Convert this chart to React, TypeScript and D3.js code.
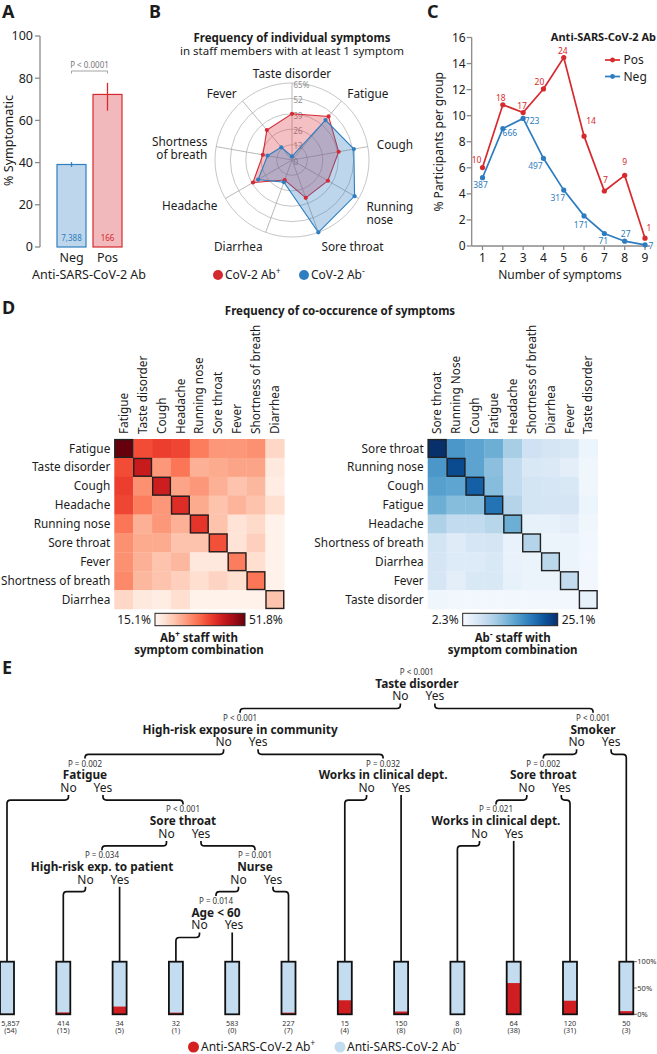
import React from "react";
import * as d3 from "d3";

const FONT = "'Noto Sans', 'Open Sans', sans-serif";
const INK = "#1c1c1c";
const RED = "#d42a2f";
const BLUE = "#2f7fc0";
const RED_FILL = "#f2b9bd";
const BLUE_FILL = "#bdd6eb";
const AXIS = "#8a8a8a";

// ---------- Panel A : % symptomatic
const abGroups = ["Neg", "Pos"];
const symptomatic = [39.1, 72.3];
const ciLow = [38.0, 64.6];
const ciHigh = [40.2, 77.8];
const groupCounts = ["7,388", "166"];
const pctTicks = [0, 20, 40, 60, 80, 100];

// ---------- Panel B : radar
const radarAxes = ["Taste disorder", "Fatigue", "Cough", "Running nose", "Sore throat", "Diarrhea", "Headache", "Shortness of breath", "Fever"];
const radarAxisLines = [["Taste disorder"], ["Fatigue"], ["Cough"], ["Running", "nose"], ["Sore throat"], ["Diarrhea"], ["Headache"], ["Shortness", "of breath"], ["Fever"]];
const radarPos = [39, 48, 40, 35, 34, 18, 38, 25, 33];
const radarNeg = [3, 44, 53, 61, 65, 20, 33, 21, 14];
const radarRings = [13, 26, 39, 52, 65];

// ---------- Panel C : number of symptoms
const symptomN = [1, 2, 3, 4, 5, 6, 7, 8, 9];
const pctPos = [6.02, 10.84, 10.24, 12.05, 14.46, 8.43, 4.22, 5.42, 0.6];
const pctNeg = [5.24, 9.01, 9.79, 6.73, 4.29, 2.31, 0.96, 0.37, 0.09];
const countPos = [10, 18, 17, 20, 24, 14, 7, 9, 1];
const countNeg = [387, 666, 723, 497, 317, 171, 71, 27, 7];
const partTicks = [0, 2, 4, 6, 8, 10, 12, 14, 16];
// label nudges (px)
const posLabelOff = [[-6, -8], [-2, -7], [-1, -7], [-4, -7], [-1, -7], [7, -15], [1, -11], [0, -13], [4, -10]];
const negLabelOff = [[-2, 7], [7, 4], [9, 3], [-8, 8], [-6, 8], [-3, 9], [-1, 8], [1, -7], [6, 1]];

// ---------- Panel D : co-occurrence heatmaps
const posSymptoms = ["Fatigue", "Taste disorder", "Cough", "Headache", "Running nose", "Sore throat", "Fever", "Shortness of breath", "Diarrhea"];
const posMatrix = [
  [51.8, 36.4, 37.9, 37.1, 31.3, 28.3, 28.3, 29.0, 20.6],
  [36.4, 43.0, 28.3, 32.0, 25.4, 26.1, 26.8, 26.8, 17.7],
  [37.9, 29.0, 42.3, 26.8, 28.3, 25.4, 23.2, 24.6, 16.9],
  [37.1, 31.3, 28.3, 40.1, 26.1, 23.2, 25.0, 23.2, 19.5],
  [32.0, 25.4, 28.3, 25.4, 39.0, 23.2, 18.8, 20.2, 15.8],
  [29.0, 26.1, 26.1, 23.2, 23.2, 36.0, 18.8, 21.7, 15.8],
  [29.0, 25.4, 23.2, 24.6, 18.0, 18.0, 31.3, 19.5, 15.8],
  [29.8, 24.6, 23.2, 21.7, 19.5, 21.0, 19.5, 32.0, 15.8],
  [20.6, 17.7, 16.9, 19.5, 15.8, 15.8, 15.8, 15.8, 23.2],
];
const posRange = [15.1, 51.8];
const negColSymptoms = ["Sore throat", "Running Nose", "Cough", "Fatigue", "Headache", "Shortness of breath", "Diarrhea", "Fever", "Taste disorder"];
const negRowSymptoms = ["Sore throat", "Running nose", "Cough", "Fatigue", "Headache", "Shortness of breath", "Diarrhea", "Fever", "Taste disorder"];
const negMatrix = [
  [25.1, 16.0, 14.8, 13.7, 10.1, 6.9, 6.2, 5.7, 3.4],
  [16.0, 22.8, 14.8, 11.9, 8.0, 5.7, 5.5, 4.6, 3.2],
  [15.1, 14.6, 21.0, 12.1, 8.0, 6.4, 6.0, 5.7, 3.2],
  [13.7, 12.1, 12.1, 19.2, 9.1, 6.4, 6.2, 6.2, 3.4],
  [9.6, 8.0, 8.0, 8.9, 13.7, 4.1, 4.1, 4.6, 3.2],
  [6.4, 5.0, 6.0, 6.2, 3.9, 9.1, 3.7, 3.7, 3.0],
  [6.2, 5.3, 5.3, 5.7, 3.9, 3.7, 8.7, 3.7, 3.0],
  [6.0, 4.6, 5.7, 5.7, 4.1, 3.7, 3.7, 8.0, 3.0],
  [3.2, 3.0, 3.0, 3.0, 3.0, 3.0, 3.0, 3.0, 4.1],
];
const negRange = [2.3, 25.1];

// ---------- Panel E : conditional inference tree
const splitNames = ["Taste disorder", "High-risk exposure in community", "Fatigue", "Sore throat", "High-risk exp. to patient", "Nurse", "Age < 60", "Works in clinical dept.", "Smoker", "Sore throat", "Works in clinical dept."];
const splitP = ["P < 0.001", "P < 0.001", "P = 0.002", "P < 0.001", "P = 0.034", "P = 0.001", "P = 0.014", "P = 0.032", "P < 0.001", "P = 0.002", "P = 0.021"];
const splitNo = ["n1", "n2", "L0", "n4", "L1", "n6", "L3", "L6", "n9", "n10", "L8"];
const splitYes = ["n8", "n7", "n3", "n5", "L2", "L5", "L4", "L7", "L11", "L10", "L9"];
const leafTotal = [5857, 414, 34, 32, 583, 227, 15, 150, 8, 64, 120, 50];
const leafPos = [54, 15, 5, 1, 0, 7, 4, 8, 0, 38, 31, 3];
// horizontal placement of each split, in leaf-slot units
const splitSlot = [7.28, 4.14, 1.385, 3.126, 1.687, 4.405, 3.712, 6.68, 10.41, 9.526, 8.686];

const Sup = ({ t, size = 8 }: { t: string; size?: number }) => (
  <tspan dy={-5} fontSize={size}>{t}</tspan>
);

function PanelA() {
  const y = d3.scaleLinear().domain([0, 100]).range([247, 36]);
  const x = d3.scaleBand().domain(abGroups).range([49.8, 129.2]).paddingInner(0.194).paddingOuter(0.2);
  const ax = 40;
  const cNeg = x("Neg")! + x.bandwidth() / 2;
  const cPos = x("Pos")! + x.bandwidth() / 2;
  return (
    <g>
      <text x={2} y={18} fontSize={18} fontWeight="bold">A</text>
      <line x1={ax} x2={ax} y1={y(100)} y2={y(0)} stroke={AXIS} strokeWidth={1.3} />
      {pctTicks.map(t => (
        <g key={t}>
          <line x1={ax - 5} x2={ax} y1={y(t)} y2={y(t)} stroke={AXIS} strokeWidth={1.3} />
          <text x={ax - 7} y={y(t)} dy="0.35em" textAnchor="end" fontSize={12.5}>{t}</text>
        </g>
      ))}
      <text transform={`translate(12.5,${y(50) - 1}) rotate(-90)`} textAnchor="middle" fontSize={12.5}>% Symptomatic</text>
      {abGroups.map((g, i) => {
        const c = i === 0 ? BLUE : RED;
        const cx = x(g)! + x.bandwidth() / 2;
        return (
          <g key={g}>
            <rect x={x(g)} y={y(symptomatic[i])} width={x.bandwidth()} height={y(0) - y(symptomatic[i])}
              fill={i === 0 ? BLUE_FILL : RED_FILL} stroke={c} strokeWidth={1.2} />
            <line x1={cx} x2={cx} y1={y(ciLow[i])} y2={y(ciHigh[i])} stroke={c} strokeWidth={1.3} />
            <text x={cx} y={241} textAnchor="middle" fontSize={8} fill={c}>{groupCounts[i]}</text>
            <text x={cx} y={262} textAnchor="middle" fontSize={12.5}>{g}</text>
          </g>
        );
      })}
      <path d={`M${cNeg},73.5V71H${cPos}V73.5`} fill="none" stroke="#999" strokeWidth={0.9} />
      <text x={(cNeg + cPos) / 2} y={67.5} textAnchor="middle" fontSize={8} fill="#777">P &lt; 0.0001</text>
      <text x={89} y={279} textAnchor="middle" fontSize={12.5}>Anti-SARS-CoV-2 Ab</text>
    </g>
  );
}

function PanelB() {
  const cx = 292;
  const cy = 160;
  const r = d3.scaleLinear().domain([0, 65]).range([0, 77]);
  const ang = d3.scaleLinear().domain([0, radarAxes.length]).range([0, 2 * Math.PI]);
  const pt = (i: number, v: number) => [cx + r(v) * Math.sin(ang(i)), cy - r(v) * Math.cos(ang(i))];
  const poly = (vals: number[]) => vals.map((v, i) => pt(i, v).join(",")).join(" ");
  return (
    <g>
      <text x={149} y={18} fontSize={18} fontWeight="bold">B</text>
      <text x={cx} y={42} textAnchor="middle" fontSize={11.5} fontWeight="bold">Frequency of individual symptoms</text>
      <text x={cx} y={55} textAnchor="middle" fontSize={11.5}>in staff members with at least 1 symptom</text>
      {radarRings.map(v => (
        <circle key={v} cx={cx} cy={cy} r={r(v)} fill="none" stroke="#b8b8b8" strokeWidth={0.8} />
      ))}
      {radarAxes.map((a, i) => {
        const [x2, y2] = pt(i, 65);
        return <line key={a} x1={cx} y1={cy} x2={x2} y2={y2} stroke="#a8a8a8" strokeWidth={0.8} />;
      })}
      {[0, ...radarRings].map((v, k) => (
        <text key={v} x={cx + 1.5} y={cy - r(v) + 2} dy="0.35em" fontSize={8} fill="#8f8f8f">
          {k === radarRings.length ? `${v}%` : v}
        </text>
      ))}
      <polygon points={poly(radarPos)} fill="rgba(220,60,72,0.32)" stroke="#d42a35" strokeWidth={1.1} />
      <polygon points={poly(radarNeg)} fill="rgba(52,128,196,0.32)" stroke="#2f7fc0" strokeWidth={1.1} />
      {radarPos.map((v, i) => {
        const [x, y] = pt(i, v);
        return <circle key={"p" + i} cx={x} cy={y} r={2.1} fill="#d42a35" />;
      })}
      {radarNeg.map((v, i) => {
        const [x, y] = pt(i, v);
        return <circle key={"n" + i} cx={x} cy={y} r={2.1} fill="#2f7fc0" />;
      })}
      {radarAxisLines.map((lines, i) => {
        const s = Math.sin(ang(i));
        const c = Math.cos(ang(i));
        const lx = cx + 86 * s;
        const ly = cy - 86 * c + Math.max(0, -c) * 6.5;
        const anchor = s > 0.3 ? "start" : s < -0.3 ? "end" : "middle";
        const first = lines.length > 1 ? (c > 0 ? -3 : 1) : 0;
        return (
          <text key={i} x={lx} y={ly + first} textAnchor={anchor} fontSize={11.8}>
            {lines.map((l, k) => (
              <tspan key={k} x={lx} dy={k === 0 ? "0.35em" : 12.5}>{l}</tspan>
            ))}
          </text>
        );
      })}
      <circle cx={218} cy={275} r={5} fill={RED} />
      <text x={225} y={279} fontSize={12}>CoV-2 Ab<Sup t="+" /></text>
      <circle cx={304} cy={275} r={5} fill={BLUE} />
      <text x={311} y={279} fontSize={12}>CoV-2 Ab<Sup t="-" size={9} /></text>
    </g>
  );
}

function PanelC() {
  const x = d3.scaleLinear().domain([1, 9]).range([482.5, 645]);
  const y = d3.scaleLinear().domain([0, 16]).range([246, 37.5]);
  const line = d3.line<number>().x((_, i) => x(symptomN[i])).y(d => y(d));
  const ax = 471.7;
  const series = [
    { vals: pctPos, counts: countPos, color: "#d62a2e", off: posLabelOff },
    { vals: pctNeg, counts: countNeg, color: "#2d7cc0", off: negLabelOff },
  ];
  return (
    <g>
      <text x={427} y={18} fontSize={18} fontWeight="bold">C</text>
      <line x1={ax} x2={ax} y1={y(16)} y2={y(0)} stroke={AXIS} strokeWidth={1.3} />
      <line x1={ax} x2={650} y1={y(0)} y2={y(0)} stroke={AXIS} strokeWidth={1.3} />
      {partTicks.map(t => (
        <g key={t}>
          <line x1={ax - 5} x2={ax} y1={y(t)} y2={y(t)} stroke={AXIS} strokeWidth={1.3} />
          <text x={ax - 6} y={y(t)} dy="0.35em" textAnchor="end" fontSize={12}>{t}</text>
        </g>
      ))}
      {symptomN.map(n => (
        <g key={n}>
          <line x1={x(n)} x2={x(n)} y1={y(0)} y2={y(0) + 4} stroke={AXIS} strokeWidth={1.3} />
          <text x={x(n)} y={262} textAnchor="middle" fontSize={12}>{n}</text>
        </g>
      ))}
      <text x={560} y={279} textAnchor="middle" fontSize={12}>Number of symptoms</text>
      <text transform={`translate(443,${y(8)}) rotate(-90)`} textAnchor="middle" fontSize={12}>% Participants per group</text>
      {series.map((s, k) => (
        <g key={k}>
          <path d={line(s.vals) || ""} fill="none" stroke={s.color} strokeWidth={1.7} />
          {s.vals.map((v, i) => (
            <g key={i}>
              <circle cx={x(symptomN[i])} cy={y(v)} r={2.6} fill={s.color} />
              <text x={x(symptomN[i]) + s.off[i][0]} y={y(v) + s.off[i][1]} dy="0.35em" textAnchor="middle"
                fontSize={8.5} fill={s.color}>{s.counts[i]}</text>
            </g>
          ))}
        </g>
      ))}
      <text x={656} y={41} textAnchor="end" fontSize={11} fontWeight="bold">Anti-SARS-CoV-2 Ab</text>
      {[{ t: "Pos", c: "#d62a2e", yy: 60 }, { t: "Neg", c: "#2d7cc0", yy: 76.5 }].map(l => (
        <g key={l.t}>
          <line x1={605} x2={620} y1={l.yy} y2={l.yy} stroke={l.c} strokeWidth={1.7} />
          <circle cx={612.5} cy={l.yy} r={2.4} fill={l.c} />
          <text x={623.5} y={l.yy} dy="0.35em" fontSize={12}>{l.t}</text>
        </g>
      ))}
    </g>
  );
}

function Heatmap(props: {
  id: string; x0: number; cols: string[]; rows: string[]; matrix: number[][];
  range: number[]; interp: (t: number) => string; barX: [number, number];
  sign: string; center: number;
}) {
  const { id, x0, cols, rows, matrix, range, interp, barX, sign, center } = props;
  const y0 = 439;
  const size = 170;
  const bx = d3.scaleBand<number>().domain(d3.range(cols.length)).range([x0, x0 + size]);
  const by = d3.scaleBand<number>().domain(d3.range(rows.length)).range([y0, y0 + size]);
  const color = d3.scaleSequential(interp).domain(range).clamp(true);
  const stops = d3.range(0, 1.001, 0.1);
  return (
    <g>
      <defs>
        <linearGradient id={id}>
          {stops.map(s => <stop key={s} offset={s} stopColor={interp(s)} />)}
        </linearGradient>
      </defs>
      {matrix.map((row, i) => row.map((v, j) => (
        <rect key={i + "-" + j} x={bx(j)} y={by(i)} width={bx.bandwidth() + 0.3} height={by.bandwidth() + 0.3} fill={color(v)} />
      )))}
      {matrix.map((_, i) => (
        <rect key={"d" + i} x={bx(i)! + 0.6} y={by(i)! + 0.6} width={bx.bandwidth() - 1.2} height={by.bandwidth() - 1.2}
          fill="none" stroke="#222" strokeWidth={1.4} />
      ))}
      {cols.map((c, j) => (
        <text key={c} transform={`translate(${bx(j)! + bx.bandwidth() / 2},${y0 - 5}) rotate(-90)`} dy="0.35em" fontSize={11.8}>{c}</text>
      ))}
      {rows.map((r, i) => (
        <text key={r} x={x0 - 4} y={by(i)! + by.bandwidth() / 2} dy="0.35em" textAnchor="end" fontSize={11.8}>{r}</text>
      ))}
      <rect x={barX[0]} y={613.3} width={barX[1] - barX[0]} height={12.4} fill={`url(#${id})`} stroke="#222" strokeWidth={1} />
      <text x={barX[0] - 4} y={619.5} dy="0.35em" textAnchor="end" fontSize={12}>{range[0]}%</text>
      <text x={barX[1] + 4} y={619.5} dy="0.35em" fontSize={12}>{range[1]}%</text>
      <text x={center} y={641.5} textAnchor="middle" fontSize={11.5} fontWeight="bold">
        Ab<Sup t={sign} /><tspan dy={5}> staff with</tspan>
        <tspan x={center} y={653.5}>symptom combination</tspan>
      </text>
    </g>
  );
}

function PanelD() {
  return (
    <g>
      <text x={2} y={314} fontSize={18} fontWeight="bold">D</text>
      <text x={340} y={315} textAnchor="middle" fontSize={11.5} fontWeight="bold">Frequency of co-occurence of symptoms</text>
      <Heatmap id="gradPos" x0={114.3} cols={posSymptoms} rows={posSymptoms} matrix={posMatrix} range={posRange}
        interp={d3.interpolateReds} barX={[155, 245]} sign="+" center={199} />
      <Heatmap id="gradNeg" x0={427.7} cols={negColSymptoms} rows={negRowSymptoms} matrix={negMatrix} range={negRange}
        interp={d3.interpolateBlues} barX={[462.7, 557.7]} sign="-" center={512.7} />
    </g>
  );
}

function bracket(x1: number, yA: number, yH: number, x2: number, yB: number) {
  if (Math.abs(x1 - x2) < 3) return `M${x2},${yA}V${yB}`;
  const d = x2 > x1 ? 1 : -1;
  const r = 3.5;
  return `M${x1},${yA}V${yH - r}Q${x1},${yH} ${x1 + d * r},${yH}H${x2 - d * r}Q${x2},${yH} ${x2},${yH + r}V${yB}`;
}

function PanelE() {
  const leafX = d3.scaleLinear().domain([0, leafTotal.length - 1]).range([7, 626.3]);
  const levelY = d3.scaleLinear().domain([0, 5]).range([675, 904]);
  const barY = d3.scaleLinear().domain([0, 1]).range([1014.3, 961.7]);
  const barW = 14;

  // depth of every split, walking down from the root
  const depth: Record<string, number> = { n0: 0 };
  const queue = ["n0"];
  while (queue.length) {
    const id = queue.shift()!;
    const k = +id.slice(1);
    [splitNo[k], splitYes[k]].forEach(c => {
      if (c[0] === "n") { depth[c] = depth[id] + 1; queue.push(c); }
    });
  }
  const posOf = (id: string) => {
    const k = +id.slice(1);
    if (id[0] === "L") return { x: leafX(k), top: barY(1) };
    return { x: leafX(splitSlot[k]), top: levelY(depth[id]) - 8 };
  };

  return (
    <g>
      <text x={2} y={674} fontSize={18} fontWeight="bold">E</text>
      {splitNames.map((name, k) => {
        const x = leafX(splitSlot[k]);
        const y0 = levelY(depth["n" + k]);
        const noX = x - 16.5;
        const yesX = x + 18;
        const cNo = posOf(splitNo[k]);
        const cYes = posOf(splitYes[k]);
        return (
          <g key={k}>
            <text textAnchor="middle" fontSize={12}>
              <tspan x={x} y={y0} fontSize={8} fill="#333">{splitP[k]}</tspan>
              <tspan x={x} y={y0 + 12.8} fontSize={11.8} fontWeight="bold">{name}</tspan>
              <tspan x={noX} y={y0 + 25.3}>No</tspan>
              <tspan x={yesX} y={y0 + 25.3}>Yes</tspan>
            </text>
            <path d={bracket(noX, y0 + 28.5, y0 + 33.5, cNo.x, cNo.top)} fill="none" stroke="#111" strokeWidth={1.7} />
            <path d={bracket(yesX, y0 + 28.5, y0 + 33.5, cYes.x, cYes.top)} fill="none" stroke="#111" strokeWidth={1.7} />
          </g>
        );
      })}
      {leafTotal.map((n, i) => {
        const x = leafX(i) - barW / 2;
        const f = leafPos[i] / n;
        const tx = Math.max(leafX(i), 10.5);
        return (
          <g key={i}>
            <rect x={x} y={barY(1)} width={barW} height={barY(0) - barY(1)} fill="#c4dcf0" />
            <rect x={x} y={barY(f)} width={barW} height={barY(0) - barY(f)} fill="#d01d22" />
            <rect x={x} y={barY(1)} width={barW} height={barY(0) - barY(1)} fill="none" stroke="#111" strokeWidth={1.8} />
            <text textAnchor="middle" fontSize={7.2} fill="#333">
              <tspan x={tx} y={1025.6}>{d3.format(",")(n)}</tspan>
              <tspan x={tx} y={1033.2}>({leafPos[i]})</tspan>
            </text>
          </g>
        );
      })}
      {[0, 0.5, 1].map(t => (
        <g key={t}>
          <line x1={leafX(11) + barW / 2} x2={leafX(11) + barW / 2 + 3.5} y1={barY(t)} y2={barY(t)} stroke="#333" strokeWidth={0.8} />
          <text x={leafX(11) + barW / 2 + 4} y={barY(t)} dy="0.35em" fontSize={7.5} fill="#333">{d3.format(".0%")(t)}</text>
        </g>
      ))}
      <circle cx={193.5} cy={1047} r={5.5} fill="#d42020" />
      <text x={201} y={1050.5} fontSize={12}>Anti-SARS-CoV-2 Ab<Sup t="+" /></text>
      <circle cx={340} cy={1047} r={5.5} fill="#c4dcf0" />
      <text x={347} y={1050.5} fontSize={12}>Anti-SARS-CoV-2 Ab<Sup t="-" size={9} /></text>
    </g>
  );
}

export default function App() {
  return (
    <svg width={657} height={1054} viewBox="0 0 657 1054"
      style={{ position: "absolute", left: 0, top: 0, background: "#fff" }}
      fontFamily={FONT} fill={INK}>
      <PanelA />
      <PanelB />
      <PanelC />
      <PanelD />
      <PanelE />
    </svg>
  );
}
